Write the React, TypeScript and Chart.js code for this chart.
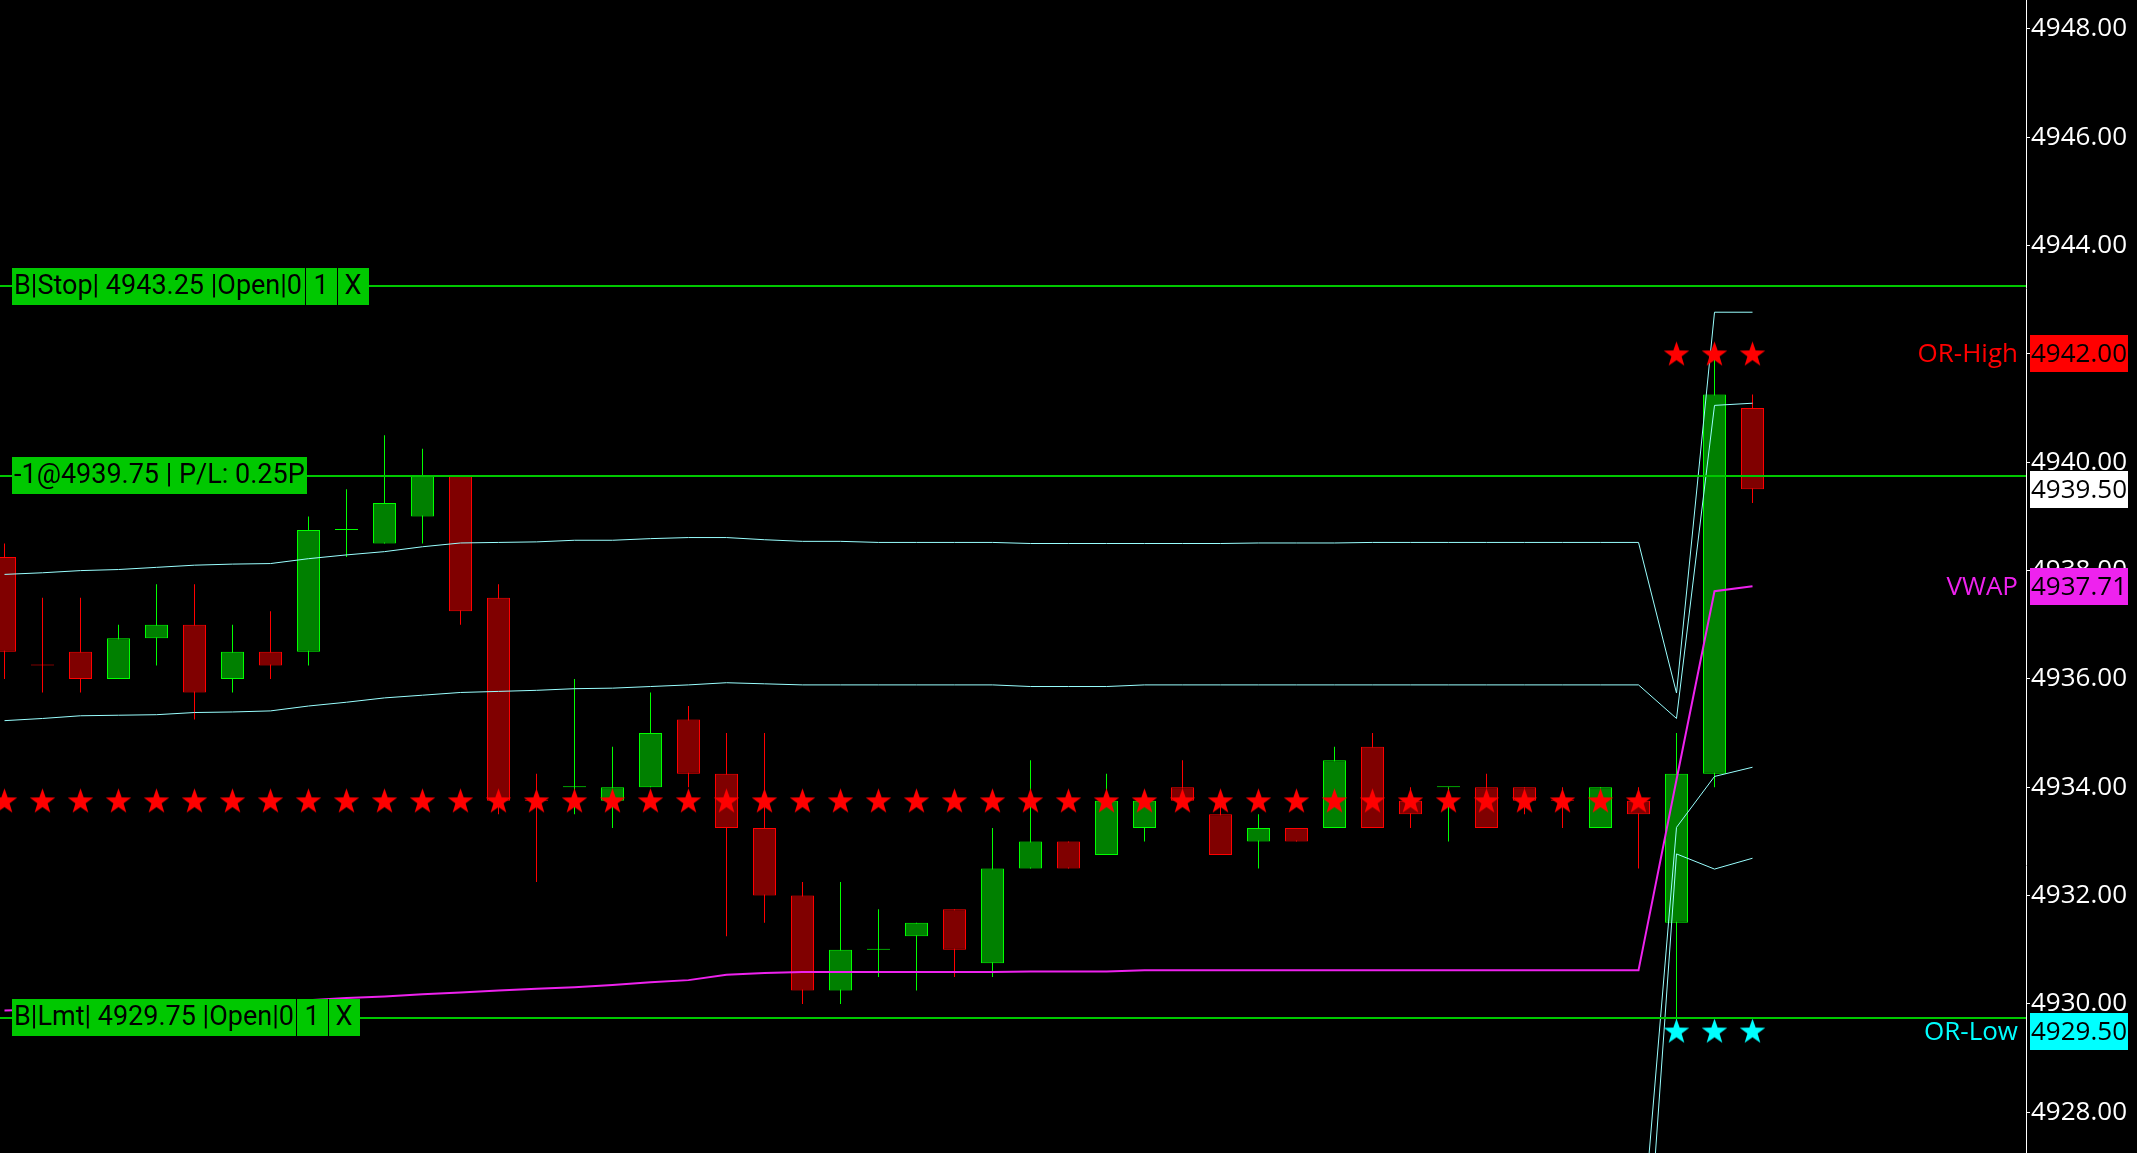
import React, { useEffect, useRef } from 'react';
import { Chart, registerables } from 'chart.js';

Chart.register(...registerables);

// ---------- data ----------
const barIndex = [
  0, 1, 2, 3, 4, 5, 6, 7, 8, 9, 10, 11, 12, 13, 14, 15, 16, 17, 18, 19, 20, 21, 22, 23,
  24, 25, 26, 27, 28, 29, 30, 31, 32, 33, 34, 35, 36, 37, 38, 39, 40, 41, 42, 43, 44, 45, 46,
];

const opens = [
  4938.25, 4936.25, 4936.5, 4936.0, 4936.75, 4937.0, 4936.0, 4936.5, 4936.5, 4938.75,
  4938.5, 4939.0, 4939.75, 4937.5, 4933.75, 4934.0, 4933.75, 4934.0, 4935.25, 4934.25,
  4933.25, 4932.0, 4930.25, 4931.0, 4931.25, 4931.75, 4930.75, 4932.5, 4933.0, 4932.75,
  4933.25, 4934.0, 4933.5, 4933.0, 4933.25, 4933.25, 4934.75, 4933.75, 4934.0, 4934.0,
  4934.0, 4933.75, 4933.25, 4933.75, 4931.5, 4934.25, 4941.0,
];
const highs = [
  4938.5, 4937.5, 4937.5, 4937.0, 4937.75, 4937.75, 4937.0, 4937.25, 4939.0, 4939.5,
  4940.5, 4940.25, 4939.75, 4937.75, 4934.25, 4936.0, 4934.75, 4935.75, 4935.5, 4935.0,
  4935.0, 4932.25, 4932.25, 4931.75, 4931.5, 4931.75, 4933.25, 4934.5, 4933.0, 4934.25,
  4933.75, 4934.5, 4933.75, 4933.5, 4933.25, 4934.75, 4935.0, 4934.0, 4934.0, 4934.25,
  4934.0, 4934.0, 4934.0, 4934.0, 4935.0, 4942.0, 4941.25,
];
const lows = [
  4936.0, 4935.75, 4935.75, 4936.0, 4936.25, 4935.25, 4935.75, 4936.0, 4936.25, 4938.25,
  4938.5, 4938.5, 4937.0, 4933.5, 4932.25, 4933.5, 4933.25, 4934.0, 4934.0, 4931.25,
  4931.5, 4930.0, 4930.0, 4930.5, 4930.25, 4930.5, 4930.5, 4932.5, 4932.5, 4932.75,
  4933.0, 4933.75, 4932.75, 4932.5, 4933.0, 4933.25, 4933.25, 4933.25, 4933.0, 4933.25,
  4933.5, 4933.25, 4933.25, 4932.5, 4929.5, 4934.0, 4939.25,
];
const closes = [
  4936.5, 4936.25, 4936.0, 4936.75, 4937.0, 4935.75, 4936.5, 4936.25, 4938.75, 4938.75,
  4939.25, 4939.75, 4937.25, 4933.75, 4933.75, 4934.0, 4934.0, 4935.0, 4934.25, 4933.25,
  4932.0, 4930.25, 4931.0, 4931.0, 4931.5, 4931.0, 4932.5, 4933.0, 4932.5, 4933.75,
  4933.75, 4933.75, 4932.75, 4933.25, 4933.0, 4934.5, 4933.25, 4933.5, 4934.0, 4933.25,
  4933.75, 4933.75, 4934.0, 4933.5, 4934.25, 4941.25, 4939.5,
];
// doji bars that are painted as down bars
const dojiDownBars = [1, 14, 41];

const upperBand = [
  4937.93, 4937.96, 4938.0, 4938.02, 4938.06, 4938.1, 4938.12, 4938.13, 4938.22, 4938.29,
  4938.35, 4938.44, 4938.51, 4938.52, 4938.53, 4938.56, 4938.56, 4938.59, 4938.61, 4938.61,
  4938.57, 4938.54, 4938.54, 4938.52, 4938.52, 4938.52, 4938.52, 4938.5, 4938.5, 4938.5,
  4938.5, 4938.5, 4938.5, 4938.51, 4938.51, 4938.51, 4938.52, 4938.52, 4938.52, 4938.52,
  4938.52, 4938.52, 4938.52, 4938.52, 4935.74, 4942.77, 4942.77,
];
const lowerBand = [
  4935.23, 4935.27, 4935.32, 4935.33, 4935.34, 4935.38, 4935.39, 4935.41, 4935.5, 4935.57,
  4935.65, 4935.7, 4935.75, 4935.77, 4935.79, 4935.82, 4935.83, 4935.86, 4935.89, 4935.93,
  4935.91, 4935.89, 4935.89, 4935.89, 4935.89, 4935.89, 4935.89, 4935.86, 4935.86, 4935.86,
  4935.89, 4935.89, 4935.89, 4935.89, 4935.89, 4935.89, 4935.89, 4935.89, 4935.89, 4935.89,
  4935.89, 4935.89, 4935.89, 4935.89, 4935.27, 4941.05, 4941.09,
];
const sessionBandA: (number | null)[] = [
  null, null, null, null, null, null, null, null, null, null,
  null, null, null, null, null, null, null, null, null, null,
  null, null, null, null, null, null, null, null, null, null,
  null, null, null, null, null, null, null, null, null, null,
  null, null, null, 4924.9, 4933.26, 4934.2, 4934.37,
];
const sessionBandB: (number | null)[] = [
  null, null, null, null, null, null, null, null, null, null,
  null, null, null, null, null, null, null, null, null, null,
  null, null, null, null, null, null, null, null, null, null,
  null, null, null, null, null, null, null, null, null, null,
  null, null, null, 4922.8, 4932.77, 4932.49, 4932.69,
];
const vwap = [
  4929.88, 4929.9, 4929.92, 4929.94, 4929.96, 4929.98, 4930.0, 4930.03, 4930.07, 4930.11,
  4930.14, 4930.18, 4930.21, 4930.25, 4930.28, 4930.31, 4930.35, 4930.4, 4930.44, 4930.54,
  4930.57, 4930.59, 4930.59, 4930.59, 4930.59, 4930.59, 4930.59, 4930.6, 4930.6, 4930.6,
  4930.62, 4930.62, 4930.62, 4930.62, 4930.62, 4930.62, 4930.62, 4930.62, 4930.62, 4930.62,
  4930.62, 4930.62, 4930.62, 4930.62, 4934.14, 4937.62, 4937.71,
];

const markerLevel = 4933.75;
const markerBars = [
  0, 1, 2, 3, 4, 5, 6, 7, 8, 9, 10, 11, 12, 13, 14, 15, 16, 17, 18, 19, 20, 21,
  22, 23, 24, 25, 26, 27, 28, 29, 30, 31, 32, 33, 34, 35, 36, 37, 38, 39, 40, 41, 42, 43,
];
const orBars = [44, 45, 46];
const orHigh = 4942.0;
const orLow = 4929.5;

const stopOrderPrice = 4943.25;
const limitOrderPrice = 4929.75;
const positionPrice = 4939.75;
const positionQty = -1;
const openPL = '0.25P';

const yTickStep = 2;

// ---------- styles ----------
const FONT = "'Open Sans', 'Noto Sans', sans-serif";
const LABEL_FONT = "Roboto, 'Open Sans', sans-serif";
const UP_FILL = '#008000';
const UP_LINE = '#00ff00';
const DN_FILL = '#800000';
const DN_LINE = '#ff0000';
const ORDER_GREEN = '#00c800';
const BAND_CYAN = '#99ffff';
const VWAP_MAGENTA = '#ee22ee';
const OR_RED = '#ff0000';
const OR_CYAN = '#00ffff';

const PLOT_RIGHT = 2026;
const AXIS_W = 2137 - PLOT_RIGHT;
const BAR_SPACING = 38;
const FIRST_BAR_X = 4.5;
const PX_PER_POINT = 54.17;
const Y_REF = 4928;
const Y_REF_PX = 1112.3;
const HEIGHT = 1153;

const xMin = -FIRST_BAR_X / BAR_SPACING;
const xMax = (PLOT_RIGHT - FIRST_BAR_X) / BAR_SPACING;
const yMax = Y_REF + Y_REF_PX / PX_PER_POINT;
const yMin = Y_REF - (HEIGHT - Y_REF_PX) / PX_PER_POINT;

function isUp(i: number) {
  if (closes[i] > opens[i]) return true;
  if (closes[i] < opens[i]) return false;
  return !dojiDownBars.includes(i);
}

function makeStar(color: string) {
  const size = 27;
  const r = 13.4;
  const c = document.createElement('canvas');
  c.width = size;
  c.height = size;
  const g = c.getContext('2d')!;
  g.fillStyle = color;
  g.beginPath();
  const cx = size / 2;
  const cy = size / 2 + 0.8;
  for (let k = 0; k < 10; k++) {
    const rad = k % 2 === 0 ? r : r * 0.4;
    const a = -Math.PI / 2 + (k * Math.PI) / 5;
    const px = cx + rad * Math.cos(a);
    const py = cy + rad * Math.sin(a);
    if (k === 0) g.moveTo(px, py);
    else g.lineTo(px, py);
  }
  g.closePath();
  g.fill();
  return c;
}

const overlayPlugin = {
  id: 'overlay',
  beforeDraw(chart: any) {
    const { ctx, width, height } = chart;
    ctx.save();
    ctx.fillStyle = '#000000';
    ctx.fillRect(0, 0, width, height);
    ctx.restore();
  },
  afterDatasetsDraw(chart: any) {
    const { ctx, chartArea: a } = chart;
    const y = chart.scales.y;
    ctx.save();
    ctx.textBaseline = 'middle';

    // order / position lines
    [stopOrderPrice, positionPrice, limitOrderPrice].forEach((p) => {
      const py = Math.round(y.getPixelForValue(p));
      ctx.fillStyle = ORDER_GREEN;
      ctx.fillRect(a.left, py - 1, a.right - a.left, 2);
    });

    const boxH = 37;
    const leftX = a.left + 12;
    ctx.font = `27px ${LABEL_FONT}`;

    const orderLabel = (price: number, kind: string) => {
      const cy = y.getPixelForValue(price);
      const top = Math.round(cy - boxH / 2);
      const main = `B|${kind}| ${price.toFixed(2)} |Open|0`;
      const mw = Math.ceil(ctx.measureText(main).width) + 4;
      const cellW = 32;
      const total = mw + cellW * 2;
      ctx.fillStyle = ORDER_GREEN;
      ctx.fillRect(leftX, top, total, boxH);
      ctx.fillStyle = '#000000';
      ctx.textAlign = 'left';
      ctx.fillText(main, leftX + 2, top + boxH / 2 + 1);
      ctx.textAlign = 'center';
      ctx.fillText('1', leftX + mw + cellW / 2, top + boxH / 2 + 1);
      ctx.fillText('X', leftX + mw + cellW * 1.5, top + boxH / 2 + 1);
      ctx.fillRect(leftX + mw, top, 1, boxH);
      ctx.fillRect(leftX + mw + cellW, top, 1, boxH);
    };
    orderLabel(stopOrderPrice, 'Stop');
    orderLabel(limitOrderPrice, 'Lmt');

    {
      const cy = y.getPixelForValue(positionPrice);
      const top = Math.round(cy - boxH / 2);
      const txt = `${positionQty}@${positionPrice.toFixed(2)} | P/L: ${openPL}`;
      const w = Math.ceil(ctx.measureText(txt).width) + 4;
      ctx.fillStyle = ORDER_GREEN;
      ctx.fillRect(leftX, top, w, boxH);
      ctx.fillStyle = '#000000';
      ctx.textAlign = 'left';
      ctx.fillText(txt, leftX + 2, top + boxH / 2 + 1);
    }

    // right side markers
    ctx.font = `26px ${FONT}`;
    const lastPrice = closes[closes.length - 1];
    const lastVwap = vwap[vwap.length - 1];
    const markers: { v: number; name: string | null; color: string }[] = [
      { v: orHigh, name: 'OR-High', color: OR_RED },
      { v: lastPrice, name: null, color: '#ffffff' },
      { v: lastVwap, name: 'VWAP', color: VWAP_MAGENTA },
      { v: orLow, name: 'OR-Low', color: OR_CYAN },
    ];
    markers.forEach((m) => {
      const cy = y.getPixelForValue(m.v);
      const top = Math.round(cy - boxH / 2);
      if (m.name) {
        ctx.fillStyle = m.color;
        ctx.textAlign = 'right';
        ctx.fillText(m.name, a.right - 8, top + boxH / 2 + 1);
      }
      ctx.fillStyle = m.color;
      ctx.fillRect(a.right + 4, top, 98, boxH);
      ctx.fillStyle = '#000000';
      ctx.textAlign = 'left';
      ctx.fillText(m.v.toFixed(2), a.right + 5, top + boxH / 2 + 1);
    });
    ctx.restore();
  },
};

export default function App() {
  const canvasRef = useRef<HTMLCanvasElement | null>(null);

  useEffect(() => {
    document.body.style.margin = '0';
    document.body.style.background = '#000000';
    const canvas = canvasRef.current;
    if (!canvas) return;

    const redStar = makeStar(OR_RED);
    const cyanStar = makeStar(OR_CYAN);

    const lineDs = (data: (number | null)[], color: string, width: number, order: number) => ({
      type: 'line' as const,
      data: barIndex.map((i) => ({ x: i, y: data[i] })),
      borderColor: color,
      borderWidth: width,
      pointRadius: 0,
      tension: 0,
      fill: false,
      spanGaps: false,
      order,
    });

    const starDs = (bars: number[], level: number, img: HTMLCanvasElement) => ({
      type: 'line' as const,
      data: bars.map((i) => ({ x: i, y: level })),
      showLine: false,
      pointStyle: img,
      pointRadius: 13,
      order: 1,
    });

    const chart = new Chart(canvas, {
      type: 'bar',
      data: {
        datasets: [
          {
            type: 'bar',
            data: barIndex.map((i) => ({ x: i, y: [lows[i], highs[i]] })),
            backgroundColor: barIndex.map((i) => (isUp(i) ? UP_LINE : DN_LINE)),
            borderWidth: 0,
            barThickness: 1,
            grouped: false,
            inflateAmount: 0,
            order: 10,
          } as any,
          {
            type: 'bar',
            data: barIndex.map((i) => ({ x: i, y: [opens[i], closes[i]] })),
            backgroundColor: barIndex.map((i) => (isUp(i) ? UP_FILL : DN_FILL)),
            borderColor: barIndex.map((i) => (isUp(i) ? UP_LINE : DN_LINE)),
            borderWidth: 1,
            borderSkipped: false,
            barThickness: 23,
            minBarLength: 1,
            grouped: false,
            inflateAmount: 0,
            order: 9,
          } as any,
          lineDs(upperBand, BAND_CYAN, 1, 5),
          lineDs(lowerBand, BAND_CYAN, 1, 5),
          lineDs(sessionBandA, BAND_CYAN, 1, 5),
          lineDs(sessionBandB, BAND_CYAN, 1, 5),
          lineDs(vwap, VWAP_MAGENTA, 2, 4),
          starDs(markerBars, markerLevel, redStar),
          starDs(orBars, orHigh, redStar),
          starDs(orBars, orLow, cyanStar),
        ] as any,
      },
      options: {
        responsive: false,
        animation: false,
        devicePixelRatio: 1,
        events: [],
        layout: { padding: 0, autoPadding: false },
        plugins: { legend: { display: false }, tooltip: { enabled: false } },
        scales: {
          x: {
            type: 'linear',
            min: xMin,
            max: xMax,
            display: false,
            offset: false,
          },
          y: {
            position: 'right',
            min: yMin,
            max: yMax,
            afterFit: (s: any) => {
              s.width = AXIS_W;
              s.paddingTop = 0;
              s.paddingBottom = 0;
            },
            border: { display: true, color: '#ffffff', width: 1 },
            grid: { drawOnChartArea: false, drawTicks: true, tickLength: 4, color: '#ffffff' },
            ticks: {
              stepSize: yTickStep,
              includeBounds: false,
              color: '#ffffff',
              padding: 1,
              font: { size: 26, family: FONT },
              callback: (v: any) => Number(v).toFixed(2),
            },
          },
        },
      } as any,
      plugins: [overlayPlugin],
    });

    return () => chart.destroy();
  }, []);

  return (
    <div style={{ width: 2137, height: 1153, background: '#000000' }}>
      <canvas ref={canvasRef} width={2137} height={1153} style={{ display: 'block' }} />
    </div>
  );
}
